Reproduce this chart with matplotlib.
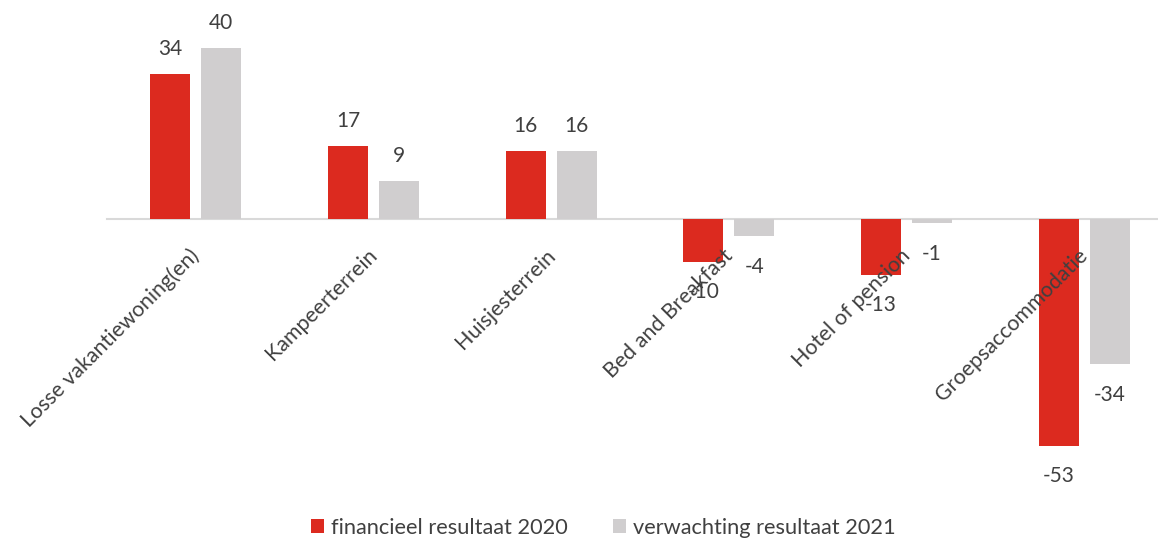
import numpy as np
from matplotlib import pyplot as plt
from matplotlib.transforms import ScaledTranslation

categories = ["Losse vakantiewoning(en)", "Kampeerterrein", "Huisjesterrein",
              "Bed and Breakfast", "Hotel of pension", "Groepsaccommodatie"]
result_2020 = [34, 17, 16, -10, -13, -53]
expect_2021 = [40, 9, 16, -4, -1, -34]
series_names = ["financieel resultaat 2020", "verwachting resultaat 2021"]

RED = "#DC2A1F"
GREY = "#D0CECF"
TEXT = "#404040"

plt.rcParams['font.family'] = ['Lato', 'DejaVu Sans']

fig = plt.figure(figsize=(11.58, 5.39), dpi=100)
ax = fig.add_axes([107 / 1158, 0.0, 1 - 107 / 1158, 1.0])

x = np.arange(len(categories))
w = 0.225
off = 0.1436

bars1 = ax.bar(x - off, result_2020, width=w, color=RED, zorder=2)
bars2 = ax.bar(x + off, expect_2021, width=w, color=GREY, zorder=2)

for bars, vals in [(bars1, result_2020), (bars2, expect_2021)]:
    for b, v in zip(bars, vals):
        dy = 18 if v >= 0 else -22
        ax.annotate(str(v), (b.get_x() + b.get_width() / 2, v),
                    xytext=(0, dy), textcoords='offset points',
                    ha='center', va='center', fontsize=15, color=TEXT,
                    zorder=6)

ax.set_xlim(-0.5, 5.5 - 15 / 177.6)
ax.set_ylim(-(539 - 219) / 4.275, 219 / 4.275)

for s in ['top', 'right', 'left']:
    ax.spines[s].set_visible(False)
ax.spines['bottom'].set_position(('data', 0))
ax.spines['bottom'].set_color('#D9D9D9')
ax.spines['bottom'].set_linewidth(1.5)
ax.spines['bottom'].set_zorder(1)
ax.set_yticks([])
ax.set_xticks(x)
ax.set_xticklabels(categories, rotation=45, ha='right', va='baseline',
                   rotation_mode='anchor', fontsize=15.4, color=TEXT)
ax.tick_params(axis='x', length=0, pad=27)
ax.xaxis.set_zorder(5)
shift = ScaledTranslation(5 / 100, 0, fig.dpi_scale_trans)
for lab in ax.get_xticklabels():
    lab.set_transform(lab.get_transform() + shift)

fig.legend([bars1, bars2], series_names, loc='center', ncol=2,
           bbox_to_anchor=(0.521, 0.021), frameon=False, fontsize=15.7,
           handlelength=0.6, handleheight=0.6, handletextpad=0.3,
           columnspacing=2.1, labelcolor=TEXT)

fig.savefig("out.png", dpi=100)
